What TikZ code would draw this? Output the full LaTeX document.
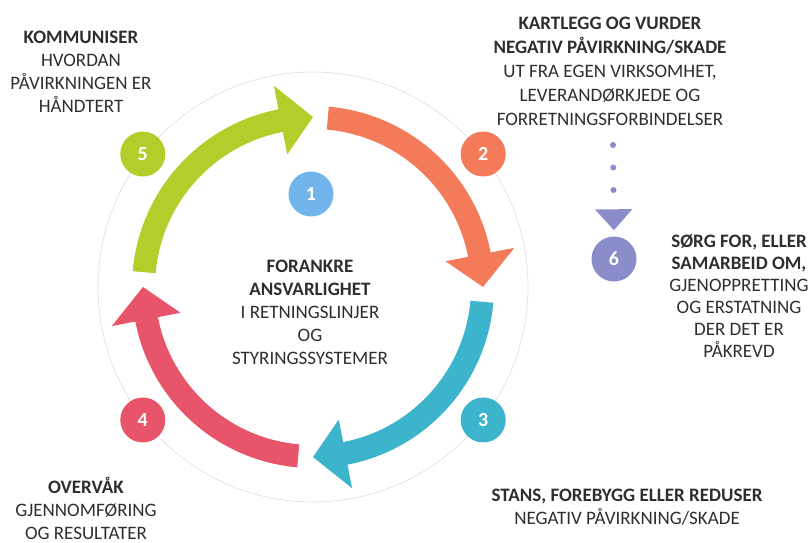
\documentclass[tikz,border=0pt]{standalone}
\usepackage{fontspec}
\setmainfont{Carlito}
\usetikzlibrary{arrows.meta, positioning}
\definecolor{greenA}{HTML}{B3CD2B}
\definecolor{orangeA}{HTML}{F47B5A}
\definecolor{cyanA}{HTML}{3BB4CC}
\definecolor{redA}{HTML}{E8546A}
\definecolor{blueA}{HTML}{72B4EC}
\definecolor{purpleA}{HTML}{8A8DC9}
\definecolor{textgray}{HTML}{2E2E2E}
\definecolor{ringgray}{HTML}{DDDDDD}
\tikzset{
	note/.style={
		align=center, text=textgray, inner sep=0pt,
		font=\fontsize{19}{23}\selectfont,
	},
	numdot/.style={
		circle, inner sep=0pt, minimum size=45pt, text=white,
		font=\fontsize{20}{20}\selectfont\bfseries,
	},
	ring/.style={
		draw=ringgray, line width=0.6pt,
	},
	dotline/.style={
		draw=purpleA, line width=6pt, line cap=round,
		dash pattern=on 0pt off 22.5pt, shorten >=6pt,
		-{Triangle[width=36pt,length=21pt]},
	}
}

\begin{document}
\begin{tikzpicture}[x=1pt, y=1pt]
	\useasboundingbox (0,0) rectangle (808,542);

	% the cycle
	\begin{scope}[shift={(313,255)}]
		\draw[ring] (0,0) circle[radius=215pt];
		\foreach \col/\sa/\ea in {orangeA/85/0, cyanA/-5/-90, redA/-95/-180, greenA/175/90}{
			\pgfmathsetmacro{\ba}{\ea+11}
			\fill[\col] (\sa:181pt) arc[start angle=\sa, end angle=\ba, radius=181pt]
				-- (\ba:205pt) -- (\ea:170pt) -- (\ba:135pt) -- (\ba:158pt)
				arc[start angle=\ba, end angle=\sa, radius=158pt] -- cycle;
		}
		\node [numdot, fill=greenA] (five) at (142:216pt) {5};
		\node [numdot, fill=orangeA] (two) at (38:216pt) {2};
		\node [numdot, fill=cyanA] (three) at (-38:216pt) {3};
		\node [numdot, fill=redA] (four) at (-142:216pt) {4};
		\node [numdot, fill=blueA] (one) at (-2,93) {1};
	\end{scope}
	\node [numdot, fill=purpleA] (six) at (614,283) {6};

	% texts
	\node [note] (komm) at (81,470) {\textbf{KOMMUNISER}\\HVORDAN\\PÅVIRKNINGEN ER\\HÅNDTERT};
	\node [note, font=\fontsize{19}{24}\selectfont] (kart) at (610,471) {\textbf{KARTLEGG OG VURDER}\\\textbf{NEGATIV PÅVIRKNING/SKADE}\\UT FRA EGEN VIRKSOMHET,\\LEVERANDØRKJEDE OG\\FORRETNINGSFORBINDELSER};
	\node [note, font=\fontsize{19}{22}\selectfont] (sorg) at (739,246) {\textbf{SØRG FOR, ELLER}\\\textbf{SAMARBEID OM,}\\GJENOPPRETTING\\OG ERSTATNING\\DER DET ER\\PÅKREVD};
	\node [note] (fora) at (310,230) {\textbf{FORANKRE}\\\textbf{ANSVARLIGHET}\\I RETNINGSLINJER\\OG\\STYRINGSSYSTEMER};
	\node [note] (over) at (86,34) {\textbf{OVERVÅK}\\GJENNOMFØRING\\OG RESULTATER};
	\node [note] (stans) at (627,35) {\textbf{STANS, FOREBYGG ELLER REDUSER}\\NEGATIV PÅVIRKNING/SKADE};

	\coordinate (dotstart) at (613,397);
	\draw [dotline] (dotstart) -- (six.north);
\end{tikzpicture}
\end{document}
